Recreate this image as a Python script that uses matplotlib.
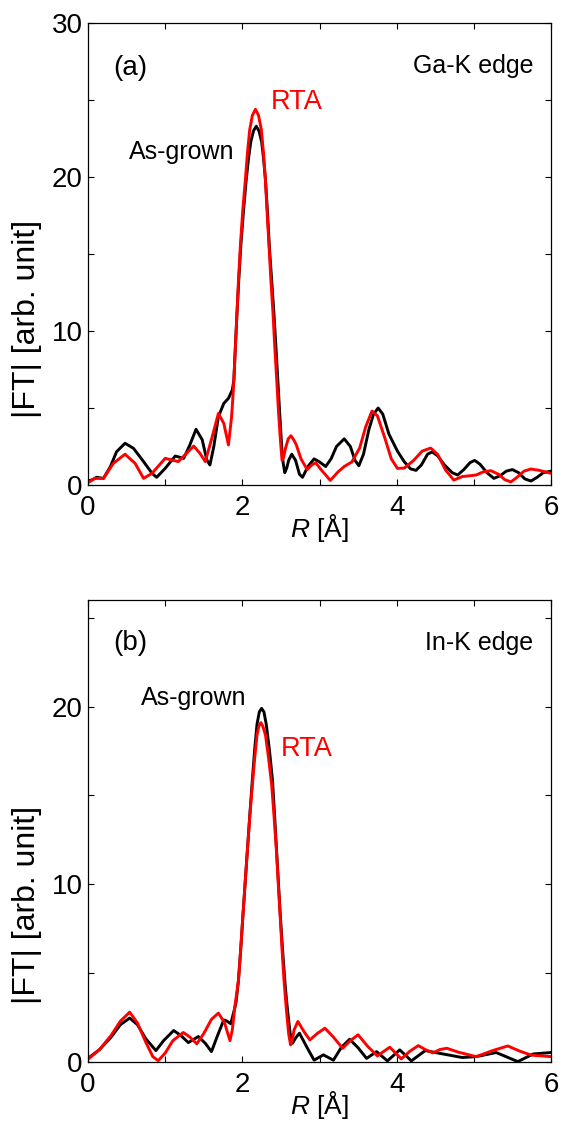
import matplotlib
matplotlib.use("Agg")
import matplotlib.pyplot as plt
from matplotlib.ticker import MultipleLocator

plt.rcParams.update(
    {
        "font.family": ["Liberation Sans", "DejaVu Sans"],
        "mathtext.fontset": "custom",
        "mathtext.rm": "Liberation Sans",
        "mathtext.it": "Liberation Sans:italic",
    }
)

# ---------------------------------------------------------------------------
# Data (R in angstrom, |FT| in arb. units)
# ---------------------------------------------------------------------------

# (a) Ga-K edge, as-grown
ga_grown_r = [0.00, 0.06, 0.11, 0.20, 0.29, 0.37, 0.48, 0.59, 0.72, 0.83, 0.89,
              1.00, 1.13, 1.19, 1.24, 1.32, 1.40, 1.48, 1.54, 1.58, 1.63, 1.69,
              1.76, 1.82, 1.87, 1.89, 1.91, 1.93, 1.955, 1.98, 2.015, 2.05,
              2.08, 2.11, 2.145, 2.18, 2.215, 2.25, 2.275, 2.30, 2.325, 2.35,
              2.38, 2.41, 2.435, 2.46, 2.485, 2.51, 2.53, 2.55, 2.575, 2.60,
              2.64, 2.69, 2.74, 2.78, 2.85, 2.93, 3.00, 3.08, 3.15, 3.22, 3.32,
              3.40, 3.46, 3.51, 3.57, 3.64, 3.70, 3.76, 3.82, 3.90, 4.01, 4.10,
              4.18, 4.25, 4.32, 4.40, 4.46, 4.53, 4.62, 4.72, 4.79, 4.87, 4.95,
              5.01, 5.08, 5.17, 5.26, 5.34, 5.42, 5.50, 5.58, 5.66, 5.74, 5.82,
              5.90, 6.00]
ga_grown_ft = [0.25, 0.35, 0.50, 0.43, 1.19, 2.16, 2.71, 2.38, 1.52, 0.76, 0.50,
               1.08, 1.88, 1.80, 1.73, 2.60, 3.62, 2.94, 1.62, 1.30, 2.49, 4.44,
               5.30, 5.63, 6.17, 6.80, 9.00, 11.1, 13.4, 15.5, 17.8, 19.8,
               21.2, 22.3, 23.0, 23.3, 23.0, 22.3, 21.2, 19.8, 17.8, 15.5,
               13.3, 11.1, 9.00, 6.80, 4.60, 2.50, 1.40, 0.80, 1.10, 1.60,
               2.00, 1.60, 0.70, 0.50, 1.20, 1.70, 1.50, 1.20, 1.70, 2.50, 3.00,
               2.50, 1.60, 1.25, 2.00, 3.60, 4.60, 5.00, 4.60, 3.30, 2.20, 1.50,
               1.05, 0.95, 1.30, 2.00, 2.15, 1.90, 1.30, 0.80, 0.65, 1.00, 1.45,
               1.60, 1.35, 0.80, 0.43, 0.60, 0.90, 1.00, 0.80, 0.40, 0.26, 0.50,
               0.80, 0.90]

# (a) Ga-K edge, RTA
ga_rta_r = [0.00, 0.09, 0.20, 0.33, 0.48, 0.61, 0.72, 0.83, 1.00, 1.17, 1.37,
            1.45, 1.52, 1.61, 1.69, 1.76, 1.82, 1.86, 1.875, 1.89, 1.93, 1.95,
            1.974, 2.005, 2.039, 2.065, 2.095, 2.13, 2.17, 2.21, 2.247, 2.275,
            2.299, 2.32, 2.346, 2.37, 2.398, 2.42, 2.446, 2.47, 2.495, 2.515,
            2.535, 2.56, 2.595, 2.63, 2.67, 2.70, 2.76, 2.84, 2.90, 2.95, 3.02,
            3.14, 3.24, 3.32, 3.42, 3.52, 3.60, 3.68, 3.75, 3.85, 3.93, 4.01,
            4.10, 4.22, 4.33, 4.44, 4.53, 4.63, 4.74, 4.85, 4.95, 5.03, 5.12,
            5.22, 5.32, 5.40, 5.48, 5.56, 5.65, 5.74, 5.85, 6.00]
ga_rta_ft = [0.15, 0.43, 0.43, 1.41, 2.00, 1.41, 0.43, 0.76, 1.73, 1.52, 2.53,
             2.06, 1.52, 3.14, 4.65, 4.00, 2.60, 4.40, 5.50, 6.80, 11.1, 13.3,
             15.5, 17.8, 19.8, 21.5, 23.05, 24.0, 24.4, 24.0, 23.05, 21.5,
             19.8, 17.8, 15.5, 13.3, 11.1, 9.00, 6.80, 4.65, 2.80, 1.60,
             1.80, 2.40, 3.00, 3.20, 2.90, 2.60, 1.70, 1.00, 1.30, 1.45, 1.00,
             0.30, 0.85, 1.20, 1.50, 2.40, 3.80, 4.80, 4.50, 3.00, 1.70, 1.08,
             1.10, 1.60, 2.20, 2.40, 2.00, 1.00, 0.32, 0.55, 0.60, 0.65, 0.85,
             0.93, 0.70, 0.35, 0.20, 0.50, 0.90, 1.04, 0.95, 0.76]

# (b) In-K edge, as-grown
in_grown_r = [0.00, 0.15, 0.30, 0.42, 0.54, 0.64, 0.75, 0.88, 0.98, 1.11, 1.20,
              1.30, 1.43, 1.52, 1.60, 1.68, 1.76, 1.80, 1.85, 1.90, 1.92, 1.95,
              1.98, 2.01, 2.04, 2.07, 2.10, 2.13, 2.16, 2.19, 2.22, 2.25, 2.28,
              2.31, 2.35, 2.39, 2.415, 2.44, 2.465, 2.49, 2.52, 2.55, 2.57,
              2.59, 2.62, 2.65, 2.69, 2.74, 2.84, 2.93, 3.05, 3.18, 3.28, 3.39,
              3.50, 3.61, 3.74, 3.88, 4.04, 4.19, 4.37, 4.60, 4.85, 5.03, 5.29,
              5.57, 5.77, 6.00]
in_grown_ft = [0.20, 0.70, 1.40, 2.10, 2.47, 2.10, 1.30, 0.64, 1.20, 1.77, 1.50,
               1.09, 1.43, 1.05, 0.58, 1.50, 2.37, 2.30, 2.15, 3.00, 3.40, 4.60,
               6.40, 8.40, 10.3, 12.2, 14.1, 15.9, 17.6, 19.0, 19.7, 19.9, 19.7,
               19.0, 17.6, 15.9, 14.1, 12.2, 10.3, 8.40, 6.40, 4.60, 3.60,
               2.75, 1.60, 1.05, 1.35, 1.62, 0.80, 0.10, 0.40, 0.10, 0.80, 1.28,
               0.80, 0.20, 0.58, 0.06, 0.68, 0.06, 0.64, 0.45, 0.25, 0.30, 0.53,
               0.02, 0.45, 0.53]

# (b) In-K edge, RTA
in_rta_r = [0.00, 0.15, 0.30, 0.42, 0.54, 0.64, 0.75, 0.84, 0.91, 1.00, 1.10,
            1.235, 1.32, 1.41, 1.50, 1.60, 1.69, 1.77, 1.84, 1.87, 1.90, 1.95,
            1.98, 2.01, 2.04, 2.07, 2.10, 2.13, 2.16, 2.19, 2.215, 2.24, 2.265,
            2.30, 2.34, 2.38, 2.41, 2.44, 2.465, 2.49, 2.515, 2.54, 2.56, 2.58,
            2.60, 2.625, 2.65, 2.67, 2.72, 2.80, 2.875, 2.97, 3.07, 3.18, 3.30,
            3.40, 3.50, 3.62, 3.75, 3.91, 4.06, 4.17, 4.28, 4.37, 4.47, 4.56,
            4.65, 4.80, 5.03, 5.25, 5.44, 5.60, 5.75, 6.00]
in_rta_ft = [0.15, 0.70, 1.50, 2.30, 2.80, 2.20, 1.10, 0.30, 0.07, 0.50, 1.20,
             1.66, 1.40, 1.02, 1.60, 2.40, 2.75, 2.20, 1.20, 1.80, 3.00, 4.60,
             6.40, 8.40, 10.3, 12.2, 14.0, 15.6, 17.1, 18.4, 18.9, 19.1, 18.9,
             18.4, 17.1, 15.6, 13.9, 12.0, 10.1, 8.20, 6.30, 4.60, 3.50, 2.50,
             1.60, 0.96, 1.30, 1.80, 2.28, 1.70, 1.24, 1.60, 1.90, 1.40, 0.77,
             1.20, 1.53, 0.90, 0.34, 0.83, 0.17, 0.60, 0.92, 0.70, 0.51, 0.70,
             0.77, 0.55, 0.30, 0.65, 0.90, 0.60, 0.38, 0.30]

panels = [
    dict(grown=(ga_grown_r, ga_grown_ft), rta=(ga_rta_r, ga_rta_ft),
         ylim=30, tag="(a)", tag_y=27.1, edge="Ga-K edge", edge_y=27.2,
         grown_xy=(1.22, 21.6), rta_xy=(2.71, 24.9), ylab_y=0.36),
    dict(grown=(in_grown_r, in_grown_ft), rta=(in_rta_r, in_rta_ft),
         ylim=26, tag="(b)", tag_y=23.6, edge="In-K edge", edge_y=23.6,
         grown_xy=(1.37, 20.5), rta_xy=(2.84, 17.6), ylab_y=0.34),
]

fig = plt.figure(figsize=(5.63, 11.24), dpi=100)
rects = [[0.1563, 0.5685, 0.8224, 0.411], [0.1563, 0.0552, 0.8224, 0.411]]

for rect, p in zip(rects, panels):
    ax = fig.add_axes(rect)
    ax.plot(*p["grown"], color="black", lw=2.1)
    ax.plot(*p["rta"], color="red", lw=2.1)

    ax.set_xlim(0, 6)
    ax.set_ylim(0, p["ylim"])
    ax.xaxis.set_major_locator(MultipleLocator(2))
    ax.xaxis.set_minor_locator(MultipleLocator(1))
    ax.yaxis.set_major_locator(MultipleLocator(10))
    ax.yaxis.set_minor_locator(MultipleLocator(5))
    ax.tick_params(which="both", direction="in", top=True, right=True,
                   length=4, width=0.8, labelsize=20)
    ax.tick_params(axis="x", pad=7)
    ax.tick_params(axis="y", pad=4)
    for s in ax.spines.values():
        s.set_linewidth(0.9)

    ax.set_xlabel(r"$R$ [Å]", fontsize=19, labelpad=-6)
    ax.set_ylabel("|FT| [arb. unit]", fontsize=23)
    ax.yaxis.set_label_coords(-0.1, p["ylab_y"])

    ax.text(0.545, p["tag_y"], p["tag"], fontsize=20, ha="center", va="center")
    ax.text(5.77, p["edge_y"], p["edge"], fontsize=18, ha="right", va="center")
    ax.text(*p["grown_xy"], "As-grown", fontsize=18, ha="center", va="center")
    ax.text(*p["rta_xy"], "RTA", fontsize=19.5, ha="center", va="center",
            color="red")

fig.savefig("out.png", dpi=100)
